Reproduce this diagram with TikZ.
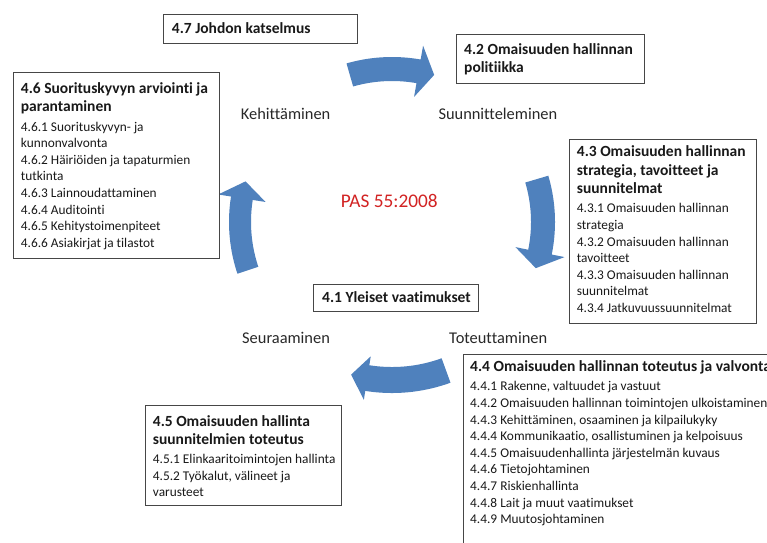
\documentclass[tikz,border=0pt]{standalone}
\usepackage{fontspec}
\setmainfont{Carlito}[Ligatures=NoCommon]
\usetikzlibrary{calc}

\definecolor{arrowblue}{RGB}{79,129,189}
\definecolor{boxline}{RGB}{70,70,70}
\definecolor{pasred}{RGB}{210,35,35}
\definecolor{ink}{RGB}{25,25,25}
\definecolor{labelink}{RGB}{40,40,40}

% heading and body fonts used inside the boxes
\newcommand\boxhead{\fontsize{15.5}{18.5}\selectfont\bfseries}
\newcommand\boxbody{\par\vspace{2.6pt}\fontsize{13.35}{16.6}\selectfont\mdseries}
\newcommand\boxtext[1]{\parbox[t]{420pt}{\raggedright #1}}

% curved block arrow on a circle around (#1,#2):
% radius #3, shaft half width #4, head half width #5,
% tail angle #6, head base angle #7, tip angle #8
\newcommand\cyclearrow[8]{%
  \fill[arrowblue]
    plot[domain=#6:#7, samples=30] ({#1+(#3+#4)*cos(\x)},{#2+(#3+#4)*sin(\x)})
    -- ({#1+(#3+#5)*cos(#7)},{#2+(#3+#5)*sin(#7)})
    -- ({#1+#3*cos(#8)},{#2+#3*sin(#8)})
    -- ({#1+(#3-#5)*cos(#7)},{#2+(#3-#5)*sin(#7)})
    -- plot[domain=#7:#6, samples=30] ({#1+(#3-#4)*cos(\x)},{#2+(#3-#4)*sin(\x)})
    -- cycle;}

\tikzset{
  boxframe/.style={draw=boxline, line width=1.3pt, fill=white, rectangle,
    anchor=north west, inner sep=0pt},
  txt/.style={anchor=base west, inner sep=0pt, text=ink},
  lbl/.style={anchor=base west, inner sep=0pt, text=labelink,
    font=\fontsize{16.4}{19}\selectfont},
  pas/.style={anchor=base west, inner sep=0pt, text=pasred,
    font=\fontsize{19.3}{22}\selectfont},
}

\begin{document}
\begin{tikzpicture}[x=1pt, y=-1pt]
  \clip (0,0) rectangle (767,542);
  \fill[white] (0,0) rectangle (767,542);

  % cycle arrows
  \cyclearrow{392}{222}{153}{12}{26}{-106}{-80}{-74}
  \cyclearrow{392}{222}{151}{12}{25}{-16.5}{11.5}{17.8}
  \cyclearrow{392}{222}{158}{13}{22}{70}{99}{105}
  \cyclearrow{392}{222}{152}{11}{24}{161.5}{189}{195.5}

  % frames
  \node[boxframe, minimum width=194pt, minimum height=29pt] (b47) at (163,13.5) {};
  \node[boxframe, minimum width=188pt, minimum height=49pt] (b42) at (456,33.5) {};
  \node[boxframe, minimum width=206pt, minimum height=186pt] (b46) at (13,72) {};
  \node[boxframe, minimum width=187pt, minimum height=184pt] (b43) at (569,138.5) {};
  \node[boxframe, minimum width=165pt, minimum height=27pt] (b41) at (313,283.5) {};
  \node[boxframe, minimum width=330pt, minimum height=210pt] (b44) at (462.5,353.5) {};
  \node[boxframe, minimum width=196pt, minimum height=100pt] (b45) at (144.5,405) {};

  % box texts
  \node[txt] (t47) at (171.7,33.3) {\boxtext{\boxhead 4.7 Johdon katselmus}};
  \node[txt] (t42) at (464,54) {\boxtext{\boxhead 4.2 Omaisuuden hallinnan\\politiikka}};
  \node[txt] (t46) at (20.7,93.3) {\boxtext{\boxhead 4.6 Suorituskyvyn arviointi ja\\parantaminen
    \boxbody 4.6.1 Suorituskyvyn- ja\\kunnonvalvonta\\4.6.2 Häiriöiden ja tapaturmien\\tutkinta\\4.6.3 Lainnoudattaminen\\4.6.4 Auditointi\\4.6.5 Kehitystoimenpiteet\\4.6.6 Asiakirjat ja tilastot}};
  \node[txt] (t43) at (576.7,156.7) {\boxtext{\boxhead 4.3 Omaisuuden hallinnan\\strategia, tavoitteet ja\\suunnitelmat
    \boxbody 4.3.1 Omaisuuden hallinnan\\strategia\\4.3.2 Omaisuuden hallinnan\\tavoitteet\\4.3.3 Omaisuuden hallinnan\\suunnitelmat\\4.3.4 Jatkuvuussuunnitelmat}};
  \node[txt] (t41) at (322,302) {\boxtext{\boxhead 4.1 Yleiset vaatimukset}};
  \node[txt] (t44) at (470,371.7) {\boxtext{\boxhead 4.4 Omaisuuden hallinnan toteutus ja valvonta
    \boxbody 4.4.1 Rakenne, valtuudet ja vastuut\\4.4.2 Omaisuuden hallinnan toimintojen ulkoistaminen\\4.4.3 Kehittäminen, osaaminen ja kilpailukyky\\4.4.4 Kommunikaatio, osallistuminen ja kelpoisuus\\4.4.5 Omaisuudenhallinta järjestelmän kuvaus\\4.4.6 Tietojohtaminen\\4.4.7 Riskienhallinta\\4.4.8 Lait ja muut vaatimukset\\4.4.9 Muutosjohtaminen}};
  \node[txt] (t45) at (152.7,426) {\boxtext{\boxhead 4.5 Omaisuuden hallinta\\suunnitelmien toteutus
    \boxbody 4.5.1 Elinkaaritoimintojen hallinta\\4.5.2 Työkalut, välineet ja\\varusteet}};

  % phase labels and title
  \node[lbl] (kehit) at (240.7,119.3) {Kehittäminen};
  \node[lbl] (suunn) at (438.3,119.3) {Suunnitteleminen};
  \node[lbl] (seur) at (242,343) {Seuraaminen};
  \node[lbl] (toteut) at (449,343) {Toteuttaminen};
  \node[pas] (pas) at (340.7,207.7) {PAS 55:2008};
\end{tikzpicture}
\end{document}
